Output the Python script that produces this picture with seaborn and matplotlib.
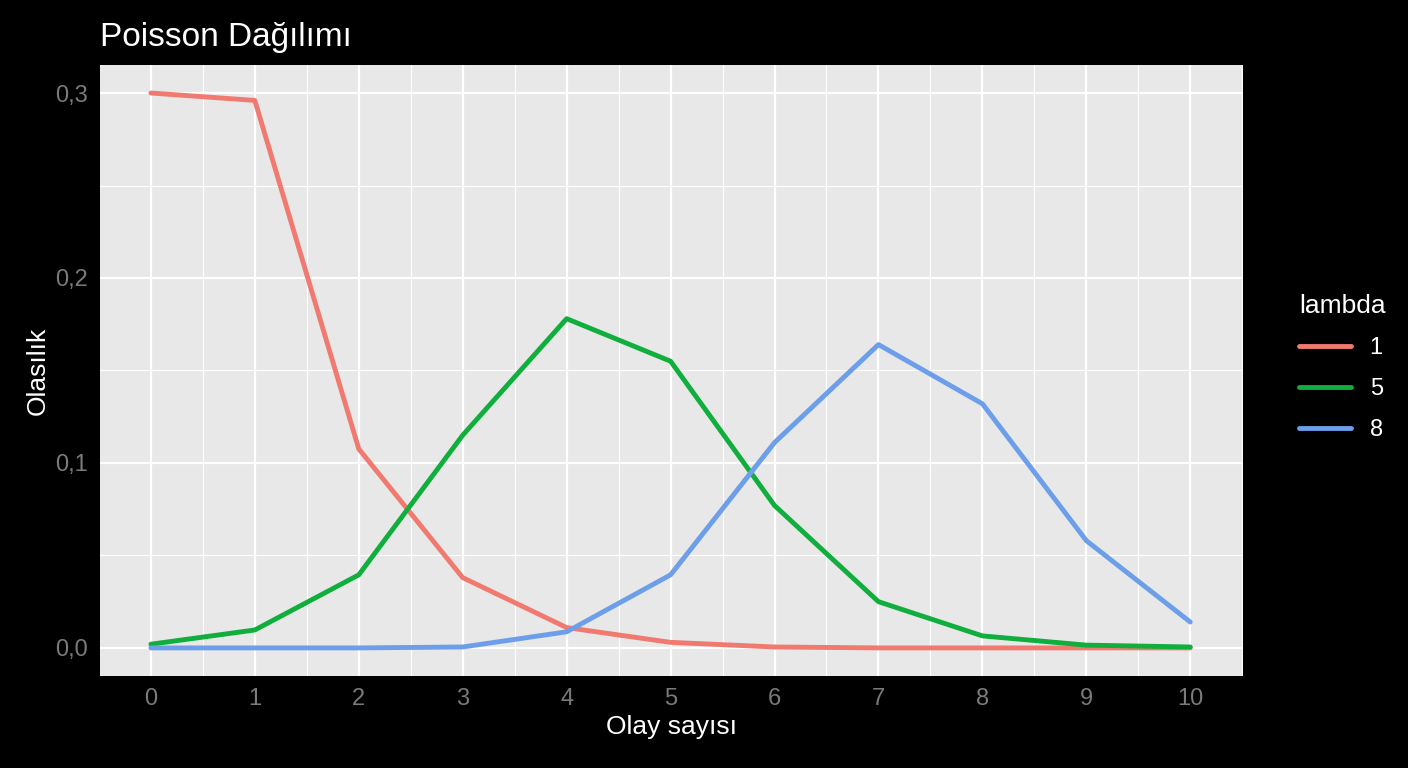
import matplotlib
matplotlib.use("Agg")
import matplotlib.pyplot as plt
import seaborn as sns
import pandas as pd
import numpy as np
from matplotlib.ticker import FuncFormatter, MultipleLocator

k = list(range(11))
lam1 = [0.300, 0.296, 0.1076, 0.038, 0.011, 0.003, 0.0005, 0.0, 0.0, 0.0, 0.0]
lam5 = [0.002, 0.0097, 0.0395, 0.115, 0.178, 0.155, 0.077, 0.025, 0.0065, 0.0015, 0.0005]
lam8 = [0.0, 0.0, 0.0, 0.0005, 0.0087, 0.0395, 0.111, 0.164, 0.132, 0.058, 0.014]
labels = ["1", "5", "8"]
colors = ["#F07A70", "#10AE3C", "#6C9EEA"]

df = pd.concat([pd.DataFrame({"k": k, "p": v, "lambda": l})
                for v, l in zip([lam1, lam5, lam8], labels)])

sns.set_style("darkgrid")
plt.rcParams['font.family'] = ['Liberation Sans', 'DejaVu Sans']
fig = plt.figure(figsize=(14.08, 7.68), dpi=100, facecolor="black")
ax = fig.add_axes([0.071, 0.12, 0.812, 0.795])
ax.set_facecolor("#E8E8E8")
sns.lineplot(data=df, x="k", y="p", hue="lambda", palette=colors, linewidth=3.5, ax=ax)
ax.set_xlim(-0.49, 10.51)
ax.set_ylim(-0.0151, 0.315)
ax.xaxis.set_major_locator(MultipleLocator(1))
ax.xaxis.set_minor_locator(MultipleLocator(0.5))
ax.yaxis.set_major_locator(MultipleLocator(0.1))
ax.yaxis.set_minor_locator(MultipleLocator(0.05))
ax.yaxis.set_major_formatter(FuncFormatter(lambda v, p: f"{v:.1f}".replace(".", ",")))
ax.grid(which="major", color="white", linewidth=1.6)
ax.grid(which="minor", color="white", linewidth=0.8)
for s in ax.spines.values():
    s.set_visible(False)
ax.tick_params(axis="both", which="major", colors="#4d4d4d", labelsize=17, length=5, labelcolor="#7a7a7a")
ax.tick_params(which="minor", length=0)
ax.set_xlabel("Olay sayısı", color="white", fontsize=19)
ax.set_ylabel("Olasılık", color="white", fontsize=19)
fig.text(0.071, 0.94, "Poisson Dağılımı", color="white", fontsize=24)
leg = ax.legend(title="lambda", loc="upper left", bbox_to_anchor=(1.03, 0.66),
                frameon=False, fontsize=17, title_fontsize=19, handlelength=2.2,
                labelspacing=0.8)
leg.get_title().set_color("white")
leg._legend_box.align = "left"
for t in leg.get_texts():
    t.set_color("white")
fig.savefig("out.png", facecolor="black")
